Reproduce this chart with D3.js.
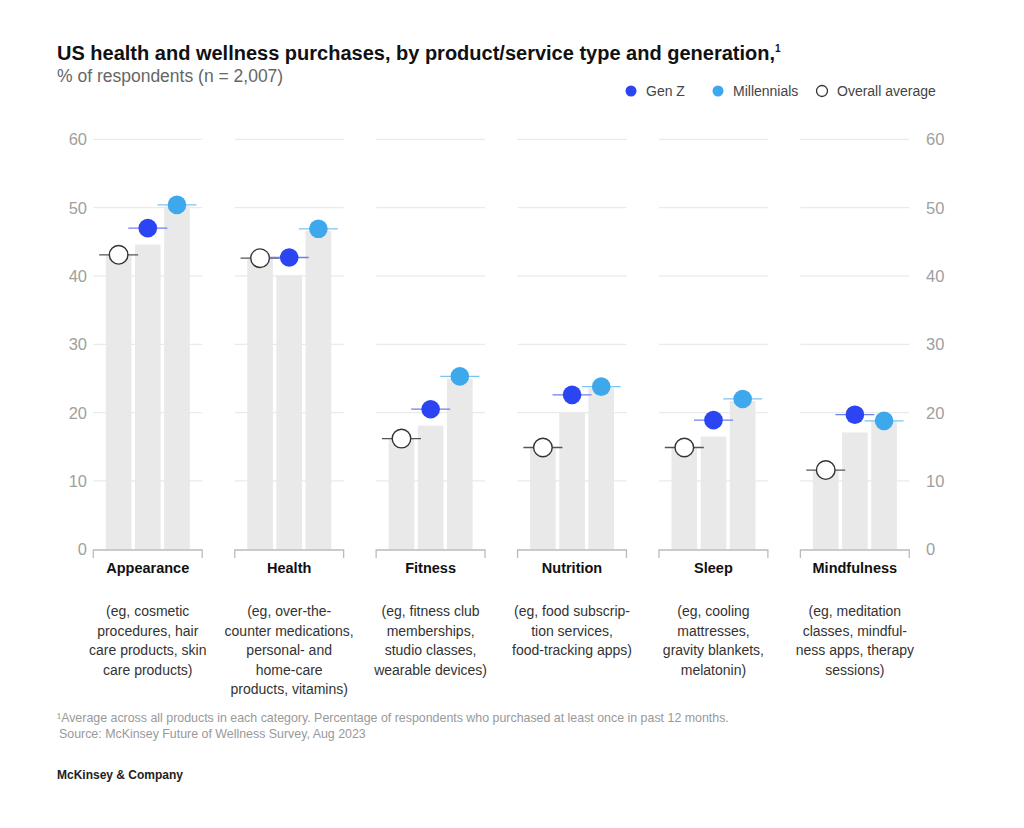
<!DOCTYPE html>
<html>
<head>
<meta charset="utf-8">
<script src="https://cdn.jsdelivr.net/npm/d3@7"></script>
<style>
  body { margin: 0; background: #fff; }
  svg { font-family: "Liberation Sans", Arial, sans-serif; }
</style>
</head>
<body>
<svg id="chart" width="1024" height="828"></svg>
<script>
// categories and their descriptions
var categories = ["Appearance", "Health", "Fitness", "Nutrition", "Sleep", "Mindfulness"];
var descriptions = [
    ["(eg, cosmetic", "procedures, hair", "care products, skin", "care products)"],
    ["(eg, over-the-", "counter medications,", "personal- and", "home-care", "products, vitamins)"],
    ["(eg, fitness club", "memberships,", "studio classes,", "wearable devices)"],
    ["(eg, food subscrip-", "tion services,", "food-tracking apps)"],
    ["(eg, cooling", "mattresses,", "gravity blankets,", "melatonin)"],
    ["(eg, meditation", "classes, mindful-", "ness apps, therapy", "sessions)"]
];

// gray bars behind the dots
var barOverall = [43.0, 42.5, 16.2, 14.9, 14.9, 11.5];
var barGenZ = [44.6, 40.1, 18.1, 20.1, 16.5, 17.1];
var barMillennials = [50.2, 46.6, 25.0, 23.6, 21.7, 18.8];

// dots
var overallAverage = [43.1, 42.6, 16.2, 14.9, 14.9, 11.6];
var genZ = [47.0, 42.7, 20.5, 22.6, 18.9, 19.7];
var millennials = [50.4, 46.9, 25.3, 23.8, 22.0, 18.8];

var yTicks = [0, 10, 20, 30, 40, 50, 60];

var blue = "#2b45f2", lightBlue = "#3ea8ec";

var svg = d3.select("#chart");

var x = d3.scaleBand().domain(categories).range([93.3, 909.3]).paddingInner(0.23);
var inner = d3.scaleBand().domain([0, 1, 2]).range([12.5, 96.5]).paddingInner(0.12);
var y = d3.scaleLinear().domain([0, 60]).range([549.3, 139.3]);

// title
svg.append("text").attr("x", 57).attr("y", 60)
    .attr("font-size", 20).attr("font-weight", "bold").attr("fill", "#111")
    .text("US health and wellness purchases, by product/service type and generation,")
    .append("tspan").attr("font-size", 10).attr("dy", -8).text("1");
svg.append("text").attr("x", 57).attr("y", 82)
    .attr("font-size", 17.5).attr("fill", "#666")
    .text("% of respondents (n = 2,007)");

// legend
var legend = [
    { label: "Gen Z", fill: blue, stroke: "none", cx: 631 },
    { label: "Millennials", fill: lightBlue, stroke: "none", cx: 718 },
    { label: "Overall average", fill: "#fff", stroke: "#333", cx: 822 }
];
legend.forEach(function(d) {
    svg.append("circle").attr("cx", d.cx).attr("cy", 91).attr("r", 5.5)
        .attr("fill", d.fill).attr("stroke", d.stroke).attr("stroke-width", 1.3);
    svg.append("text").attr("x", d.cx + 15).attr("y", 96)
        .attr("font-size", 14).attr("fill", "#444").text(d.label);
});

// y axis labels, both sides
yTicks.forEach(function(t) {
    svg.append("text").attr("x", 87).attr("y", y(t) + 6)
        .attr("text-anchor", "end").attr("font-size", 16.5).attr("fill", "#a0a0a0").text(t);
    svg.append("text").attr("x", 926).attr("y", y(t) + 6)
        .attr("font-size", 16.5).attr("fill", "#a0a0a0").text(t);
});

var groups = svg.selectAll("g.group")
    .data(categories)
    .enter()
    .append("g")
    .attr("class", "group")
    .attr("transform", function(d) { return "translate(" + x(d) + ",0)"; });

// gridlines
groups.each(function() {
    var g = d3.select(this);
    yTicks.slice(1).forEach(function(t) {
        g.append("line").attr("x1", 0).attr("x2", x.bandwidth())
            .attr("y1", y(t)).attr("y2", y(t))
            .attr("stroke", "#eaeaea").attr("stroke-width", 1.3);
    });
});

// bars
groups.each(function(d, i) {
    var g = d3.select(this);
    var vals = [barOverall[i], barGenZ[i], barMillennials[i]];
    vals.forEach(function(v, j) {
        g.append("rect")
            .attr("x", inner(j)).attr("width", inner.bandwidth())
            .attr("y", y(v)).attr("height", y(0) - y(v))
            .attr("fill", "#e9e9e9");
    });
});

// bracket at bottom
groups.append("path")
    .attr("d", "M0,558V550H" + x.bandwidth() + "V558")
    .attr("fill", "none").attr("stroke", "#bbb").attr("stroke-width", 1.3);

// dots with short lines
groups.each(function(d, i) {
    var g = d3.select(this);
    var dots = [
        { v: overallAverage[i], fill: "#fff", stroke: "#333", line: "#555" },
        { v: genZ[i], fill: blue, stroke: "none", line: "#6f7df0" },
        { v: millennials[i], fill: lightBlue, stroke: "none", line: "#7cc3f0" }
    ];
    dots.forEach(function(p, j) {
        var cx = inner(j) + inner.bandwidth() / 2;
        g.append("line").attr("x1", cx - 19.5).attr("x2", cx + 19.5)
            .attr("y1", y(p.v)).attr("y2", y(p.v))
            .attr("stroke", p.line).attr("stroke-width", 1.3);
        g.append("circle").attr("cx", cx).attr("cy", y(p.v)).attr("r", 9.3)
            .attr("fill", p.fill).attr("stroke", p.stroke).attr("stroke-width", 1.4);
    });
});

// category labels and descriptions
groups.append("text")
    .attr("x", x.bandwidth() / 2).attr("y", 573)
    .attr("text-anchor", "middle").attr("font-size", 14.5)
    .attr("font-weight", "bold").attr("fill", "#111")
    .text(function(d) { return d; });

groups.each(function(d, i) {
    var t = d3.select(this).append("text")
        .attr("text-anchor", "middle").attr("font-size", 14).attr("fill", "#333");
    descriptions[i].forEach(function(line, k) {
        t.append("tspan").attr("x", x.bandwidth() / 2).attr("y", 616 + k * 19.5).text(line);
    });
});

// footnotes
svg.append("text").attr("x", 57).attr("y", 722).attr("font-size", 12.4).attr("fill", "#999")
    .text("\u00b9Average across all products in each category. Percentage of respondents who purchased at least once in past 12 months.");
svg.append("text").attr("x", 59).attr("y", 738).attr("font-size", 12.4).attr("fill", "#999")
    .text("Source: McKinsey Future of Wellness Survey, Aug 2023");
svg.append("text").attr("x", 57).attr("y", 779).attr("font-size", 12).attr("fill", "#222")
    .attr("font-weight", "bold").text("McKinsey & Company");
</script>
</body>
</html>
